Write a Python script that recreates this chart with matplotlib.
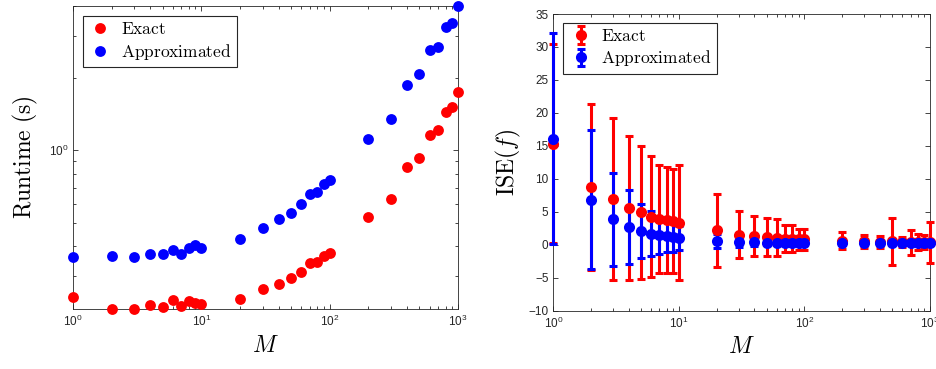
import matplotlib
matplotlib.use("Agg")
import matplotlib.pyplot as plt
import numpy as np

# M values (shared by both panels)
M = [1, 2, 3, 4, 5, 6, 7, 8, 9, 10,
     20, 30, 40, 50, 60, 70, 80, 90, 100,
     200, 300, 400, 500, 600, 700, 800, 900, 1000]

# runtime (s)
rt_exact = [0.244, 0.218, 0.217, 0.226, 0.223, 0.237, 0.225, 0.236, 0.230, 0.228,
            0.241, 0.264, 0.278, 0.293, 0.311, 0.338, 0.341, 0.364, 0.375,
            0.527, 0.629, 0.853, 0.926, 1.162, 1.219, 1.449, 1.51, 1.745]
rt_approx = [0.358, 0.362, 0.359, 0.370, 0.368, 0.383, 0.370, 0.391, 0.402, 0.390,
             0.427, 0.474, 0.519, 0.546, 0.600, 0.656, 0.670, 0.726, 0.755,
             1.118, 1.355, 1.872, 2.073, 2.62, 2.70, 3.26, 3.41, 4.0]

# ISE mean and error half-width
ise_exact = [15.3, 8.75, 6.9, 5.55, 4.95, 4.25, 3.95, 3.75, 3.6, 3.35,
             2.2, 1.5, 1.3, 1.2, 1.05, 0.9, 0.9, 0.8, 0.8,
             0.6, 0.5, 0.4, 0.5, 0.4, 0.4, 0.4, 0.4, 0.4]
err_exact = [15.1, 12.65, 12.3, 10.9, 10.1, 9.2, 8.2, 8.0, 7.9, 8.7,
             5.55, 3.55, 3.05, 2.9, 2.8, 2.05, 2.05, 1.6, 1.55,
             1.3, 1.05, 0.95, 3.5, 0.8, 1.9, 1.2, 1.05, 3.1]
ise_approx = [16.1, 6.8, 3.9, 2.7, 2.1, 1.7, 1.45, 1.3, 1.2, 1.0,
              0.6, 0.4, 0.35, 0.3, 0.3, 0.3, 0.3, 0.3, 0.3,
              0.3, 0.3, 0.3, 0.3, 0.3, 0.3, 0.3, 0.3, 0.3]
err_approx = [15.95, 10.55, 7.05, 5.6, 4.05, 3.4, 2.8, 2.4, 2.25, 1.85,
              1.1, 0.7, 0.5, 0.4, 0.4, 0.35, 0.35, 0.35, 0.35,
              0.3, 0.3, 0.3, 0.3, 0.3, 0.3, 0.3, 0.3, 0.3]

axcol = "#262626"
plt.rcParams["font.family"] = "Liberation Sans"
plt.rcParams["axes.edgecolor"] = axcol
plt.rcParams["axes.linewidth"] = 0.6
for k in ("xtick", "ytick"):
    plt.rcParams[k + ".direction"] = "in"
    plt.rcParams[k + ".color"] = axcol
    plt.rcParams[k + ".labelcolor"] = axcol
    plt.rcParams[k + ".labelsize"] = 8.5
    plt.rcParams[k + ".major.size"] = 3.5
    plt.rcParams[k + ".minor.size"] = 2
    plt.rcParams[k + ".major.width"] = 0.6
    plt.rcParams[k + ".minor.width"] = 0.6
plt.rcParams["xtick.top"] = True
plt.rcParams["ytick.right"] = True

fig = plt.figure(figsize=(9.36, 3.69), dpi=100)
ax1 = fig.add_axes([0.078, 0.1626, 0.4113, 0.821])
ax2 = fig.add_axes([0.5912, 0.158, 0.4024, 0.804])

legkw = dict(loc="upper left", fontsize=12.5, fancybox=False, edgecolor=axcol,
             framealpha=1, borderpad=0.3, handletextpad=0.5, labelspacing=0.25,
             handlelength=1.4, borderaxespad=0)

# left: runtime
ax1.plot(M, rt_exact, "o", color="red", ms=7.8, mec="none", label=r"$\mathrm{Exact}$",
         clip_on=False, zorder=3)
ax1.plot(M, rt_approx, "o", color="blue", ms=7.8, mec="none",
         label=r"$\mathrm{Approximated}$", clip_on=False, zorder=3)
ax1.set_xscale("log")
ax1.set_yscale("log")
ax1.set_xlim(1, 1000)
ax1.set_ylim(0.218, 4.0)
ax1.set_yticks([1])
ax1.set_xlabel(r"$M$", fontsize=17, math_fontfamily="cm", labelpad=4)
ax1.set_ylabel(r"$\mathrm{Runtime\ (s)}$", fontsize=17, math_fontfamily="cm", labelpad=6)
leg1 = ax1.legend(bbox_to_anchor=(0.026, 0.967), **legkw)
leg1.get_frame().set_linewidth(0.8)
for t in leg1.get_texts():
    t.set_math_fontfamily("cm")

# right: ISE with error bars
ek = dict(fmt="o", ms=8, mec="none", elinewidth=2.2, capsize=3, capthick=2.2,
          clip_on=False, zorder=3)
e1 = ax2.errorbar(M, ise_exact, yerr=err_exact, color="red", label=r"$\mathrm{Exact}$", **ek)
e2 = ax2.errorbar(M, ise_approx, yerr=err_approx, color="blue",
                  label=r"$\mathrm{Approximated}$", **ek)
for c in (e1, e2):
    for art in c.lines[1] + c.lines[2]:
        art.set_clip_on(False)
ax2.set_xscale("log")
ax2.set_xlim(1, 1000)
ax2.set_ylim(-10, 35)
ax2.set_yticks(np.arange(-10, 36, 5))
ax2.set_xlabel(r"$M$", fontsize=17, math_fontfamily="cm", labelpad=4)
ax2.set_ylabel(r"$\mathrm{ISE}(f)$", fontsize=17, math_fontfamily="cm", labelpad=4)
leg2 = ax2.legend(bbox_to_anchor=(0.026, 0.97), **legkw)
leg2.get_frame().set_linewidth(0.8)
for t in leg2.get_texts():
    t.set_math_fontfamily("cm")

fig.savefig("out.png", dpi=100)
